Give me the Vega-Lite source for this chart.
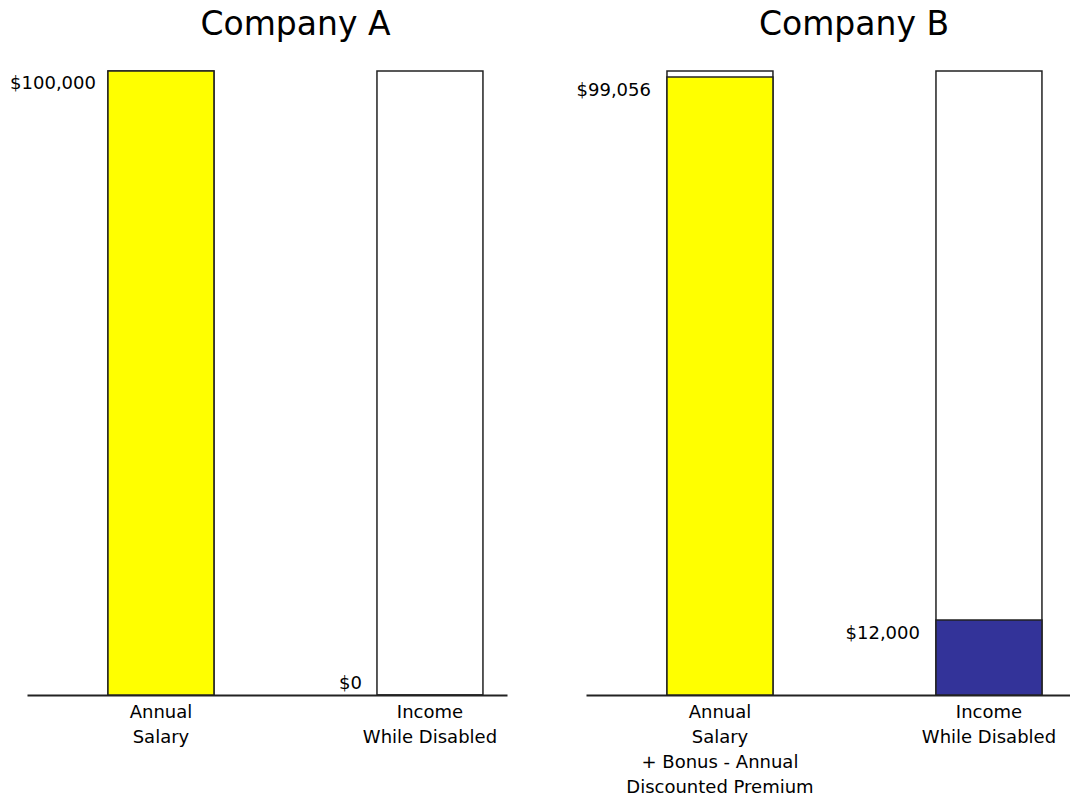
{
  "$schema": "https://vega.github.io/schema/vega-lite/v6.json",
  "background": "white",
  "padding": {"left": 10, "top": 9, "right": 0, "bottom": 0},
  "config": {
    "view": {"stroke": null},
    "font": "DejaVu Sans",
    "title": {"font": "DejaVu Sans", "fontSize": 33, "fontWeight": "normal", "color": "black", "anchor": "middle", "baseline": "alphabetic", "offset": 28},
    "axisX": {
      "domainColor": "#222", "domainWidth": 2, "ticks": false, "grid": false, "title": null,
      "labelFont": "DejaVu Sans", "labelFontSize": 18, "labelColor": "black", "labelAngle": 0,
      "labelLineHeight": 25, "labelPadding": 8, "labelLimit": 400, "labelOverlap": false, "labelBound": false,
      "labelExpr": "split(datum.label, '|')"
    }
  },
  "data": {
    "values": [
      {"company": "Company A", "category": "Annual|Salary", "series": "Salary", "value": 100000},
      {"company": "Company A", "category": "Income|While Disabled", "series": "Disability", "value": 0},
      {"company": "Company B", "category": "Annual|Salary|+ Bonus - Annual|Discounted Premium", "series": "Salary", "value": 99056},
      {"company": "Company B", "category": "Income|While Disabled", "series": "Disability", "value": 12000}
    ]
  },
  "spacing": 69,
  "resolve": {"scale": {"x": "independent", "y": "independent"}},
  "hconcat": [
    {
      "title": {"text": "Company A", "dx": 28.5},
      "width": 480,
      "height": 624,
      "transform": [{"filter": "datum.company === 'Company A'"}],
      "encoding": {
        "x": {"field": "category", "type": "nominal", "sort": null,
              "scale": {"paddingInner": 0.606, "paddingOuter": 0.1952, "align": 0.771}}
      },
      "layer": [
        {"mark": {"type": "bar", "fill": "white", "stroke": "#222", "strokeWidth": 1.5},
         "encoding": {"y": {"datum": 100000, "type": "quantitative", "scale": {"domain": [0, 100000], "nice": false}, "axis": null}}},
        {"mark": {"type": "bar", "stroke": "#222", "strokeWidth": 1.5},
         "encoding": {
           "y": {"field": "value", "type": "quantitative"},
           "color": {"field": "series", "type": "nominal", "scale": {"domain": ["Salary", "Disability"], "range": ["#ffff00", "#333399"]}, "legend": null}
         }},
        {"transform": [{"filter": "datum.value > 0"}],
         "mark": {"type": "text", "align": "right", "baseline": "middle", "dx": -12, "dy": 13, "fontSize": 18, "font": "DejaVu Sans", "color": "black"},
         "encoding": {"x": {"field": "category", "type": "nominal", "sort": null, "bandPosition": 0},
                      "y": {"field": "value", "type": "quantitative"},
                      "text": {"field": "value", "type": "quantitative", "format": "$,.0f"}}},
        {"transform": [{"filter": "datum.value == 0"}],
         "mark": {"type": "text", "align": "right", "baseline": "middle", "dx": -15, "dy": -11, "fontSize": 18, "font": "DejaVu Sans", "color": "black"},
         "encoding": {"x": {"field": "category", "type": "nominal", "sort": null, "bandPosition": 0},
                      "y": {"field": "value", "type": "quantitative"},
                      "text": {"field": "value", "type": "quantitative", "format": "$,.0f"}}}
      ]
    },
    {
      "title": {"text": "Company B", "dx": 25.5},
      "width": 485,
      "height": 624,
      "transform": [{"filter": "datum.company === 'Company B'"}],
      "encoding": {
        "x": {"field": "category", "type": "nominal", "sort": null,
              "scale": {"paddingInner": 0.606, "paddingOuter": 0.2045, "align": 0.736}}
      },
      "layer": [
        {"mark": {"type": "bar", "fill": "white", "stroke": "#222", "strokeWidth": 1.5},
         "encoding": {"y": {"datum": 100000, "type": "quantitative", "scale": {"domain": [0, 100000], "nice": false}, "axis": null}}},
        {"mark": {"type": "bar", "stroke": "#222", "strokeWidth": 1.5},
         "encoding": {
           "y": {"field": "value", "type": "quantitative"},
           "color": {"field": "series", "type": "nominal", "scale": {"domain": ["Salary", "Disability"], "range": ["#ffff00", "#333399"]}, "legend": null}
         }},
        {"transform": [{"filter": "datum.value > 0"}],
         "mark": {"type": "text", "align": "right", "baseline": "middle", "dx": -16, "dy": 14, "fontSize": 18, "font": "DejaVu Sans", "color": "black"},
         "encoding": {"x": {"field": "category", "type": "nominal", "sort": null, "bandPosition": 0},
                      "y": {"field": "value", "type": "quantitative"},
                      "text": {"field": "value", "type": "quantitative", "format": "$,.0f"}}}
      ]
    }
  ]
}
